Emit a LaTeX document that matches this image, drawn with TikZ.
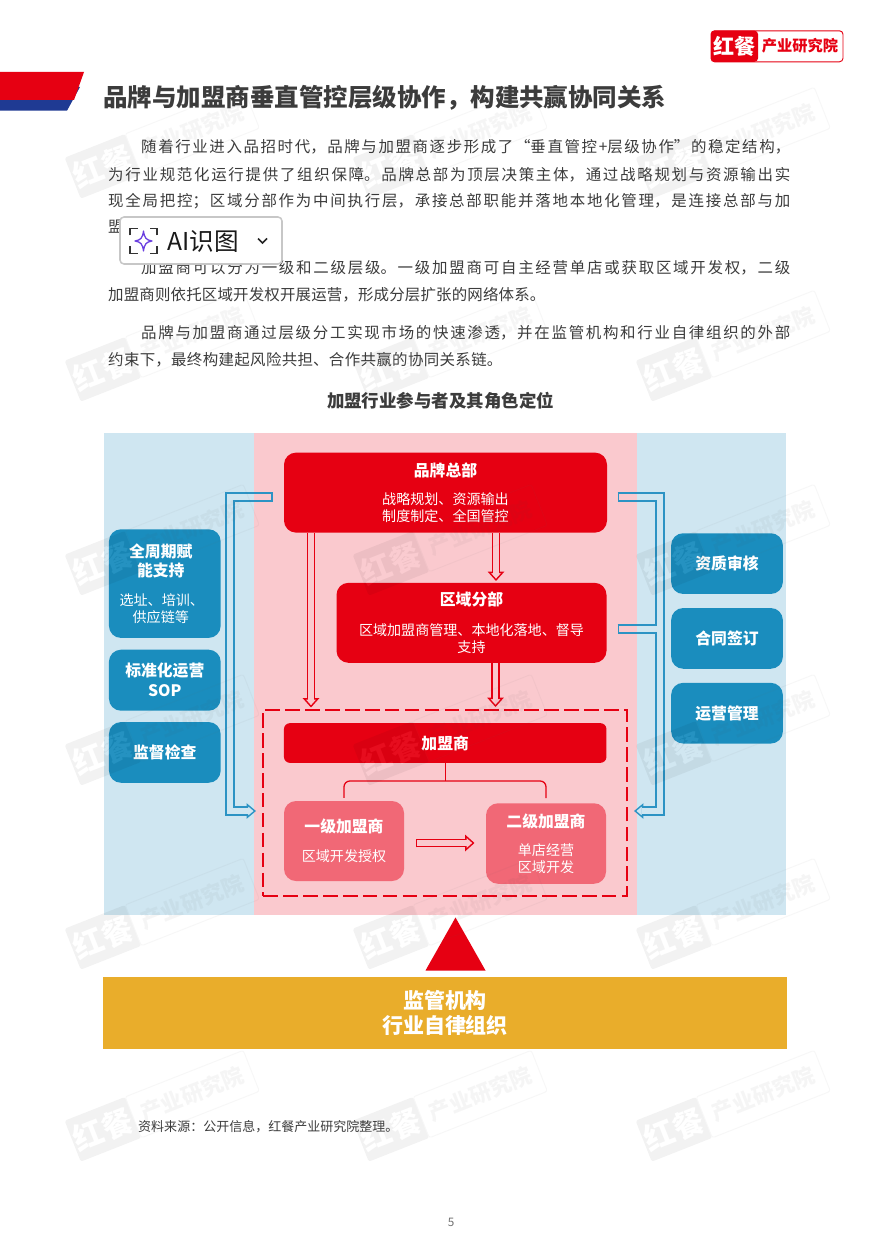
\documentclass[tikz,border=0pt]{standalone}
\usepackage{fontspec}
\setmainfont{Noto Sans CJK SC}
\usepackage{tikz}
\usetikzlibrary{arrows.meta}
\XeTeXlinebreaklocale "zh"
\XeTeXlinebreakskip=0pt plus 2pt
\newdimen\px \px=0.03cm
\definecolor{hcred}{HTML}{E60012}
\definecolor{hcnavy}{HTML}{1F3A93}
\definecolor{hcsalmon}{HTML}{F16876}
\definecolor{hcblue}{HTML}{1A8DBE}
\definecolor{pipeblue}{HTML}{2C93C4}
\definecolor{panelblue}{HTML}{CFE6F1}
\definecolor{panelpink}{HTML}{FAC9CE}
\definecolor{hcgold}{HTML}{E9AD2B}
\definecolor{inkgray}{HTML}{3C3C3C}
\definecolor{aipurple}{HTML}{6A3FE0}
\newcommand\ttlfont{\fontsize{13.5}{14.5}\selectfont\bfseries}
\newcommand\subfont{\fontsize{12}{14.5}\selectfont\mdseries}
\tikzset{
  panel/.style={inner sep=0,minimum height=482*\px},
  redbox/.style={fill=hcred,text=white,rounded corners=12*\px,align=center,inner sep=0,font=\subfont},
  pinkbox/.style={fill=hcsalmon,text=white,rounded corners=12*\px,align=center,inner sep=0,minimum width=120*\px,font=\subfont},
  bluebox/.style={fill=hcblue,text=white,rounded corners=12*\px,align=center,inner sep=0,font=\subfont},
  textline/.style={anchor=west,inner sep=0,text=inkgray,text height=12pt,text depth=2pt,font=\fontsize{13.2}{16}\selectfont},
  redpipe/.style={draw=hcred,line width=1.3pt,double=panelpink,double distance=4.4pt,
                  -{Triangle[length=8pt,width=14pt,open,fill=panelpink,line width=1.2pt]}},
  bluepipe/.style={draw=pipeblue,line width=1.3pt,double=panelblue,double distance=5.7pt,
                   -{Triangle[length=8pt,width=13pt,open,fill=panelblue,line width=1.2pt]}},
  bluetap/.style={draw=pipeblue,line width=1.3pt,double=panelblue,double distance=5.7pt},
  pinktap/.style={draw=pipeblue,line width=1.3pt,double=panelpink,double distance=5.7pt},
  treeline/.style={draw=hcred,line width=1.1pt,rounded corners=5pt},
  wmfill/.style={fill=black,text=white,inner sep=0,rounded corners=2pt,
                 minimum width=65*\px,minimum height=44*\px,transform shape,font=\fontsize{26}{26}\selectfont\bfseries},
  wmline/.style={draw=black!60,line width=.8pt,text=black!70,inner sep=0,rounded corners=2pt,
                 minimum width=127*\px,minimum height=44*\px,transform shape,font=\fontsize{18.5}{18.5}\selectfont\bfseries},
}
\begin{document}
\begin{tikzpicture}[x=0.03cm,y=-0.03cm]
\useasboundingbox (0,0) rectangle (890,1244);
\fill[white] (0,0) rectangle (890,1244);
% page header
\fill[hcnavy] (0,87) -- (80,87) -- (67,110.7) -- (0,110.7) -- cycle;
\fill[hcred] (0,72) -- (84,72) -- (74,100) -- (0,100) -- cycle;
\node[anchor=west,inner sep=0,text=inkgray,font=\fontsize{20.9}{24}\selectfont\bfseries] (pagetitle) at (103,98) {品牌与加盟商垂直管控层级协作，构建共赢协同关系};
\node[draw=hcred,fill=white,rounded corners=3pt,line width=.8pt,minimum width=132*\px,minimum height=31*\px,inner sep=0] (logoframe) at (777,46.3) {};
\fill[hcred,rounded corners=3pt] (711,30.7) -- (758,30.7) -- (758,61.8) -- (711,61.8) -- cycle;
\node[text=white,inner sep=0,font=\fontsize{18}{18}\selectfont\bfseries] (logored) at (734.5,46) {红餐};
\node[text=hcred,inner sep=0,font=\fontsize{13}{13}\selectfont\bfseries] (logotext) at (800,46) {产业研究院};
% body text, one node per printed line
\foreach \i/\lx/\ly/\lw/\lt in {
  1/141/144.5/649/随着行业进入品招时代，品牌与加盟商逐步形成了“垂直管控+层级协作”的稳定结构，,
  2/108/172/682/为行业规范化运行提供了组织保障。品牌总部为顶层决策主体，通过战略规划与资源输出实,
  3/108/199/682/现全局把控；区域分部作为中间执行层，承接总部职能并落地本地化管理，是连接总部与加,
  5/141/265/649/加盟商可以分为一级和二级层级。一级加盟商可自主经营单店或获取区域开发权，二级,
  6/108/292/437/加盟商则依托区域开发权开展运营，形成分层扩张的网络体系。,
  7/141/330/649/品牌与加盟商通过层级分工实现市场的快速渗透，并在监管机构和行业自律组织的外部,
  8/108/357/394/约束下，最终构建起风险共担、合作共赢的协同关系链。}{
  \node[textline] (line\i) at (\lx,\ly) {\parbox{\lw\px}{\parindent=0pt\parfillskip=0pt\tolerance=9999\hbadness=10000 \lt}};}
\node[textline] (line4) at (108,226.5) {盟};
\node[text=inkgray,inner sep=0,font=\fontsize{14.9}{18}\selectfont\bfseries] (figtitle) at (440.5,401) {加盟行业参与者及其角色定位};
% panels
\node[panel,fill=panelblue,minimum width=149.5*\px,anchor=north west] (leftpanel) at (104,433) {};
\node[panel,fill=panelpink,minimum width=383*\px,anchor=north west] (midpanel) at (253.5,433) {};
\node[panel,fill=panelblue,minimum width=149.5*\px,anchor=north west] (rightpanel) at (636.5,433) {};
% brand and region boxes
\node[redbox,minimum width=323*\px,minimum height=80*\px] (hq) at (445.5,492.6) {\ttlfont 品牌总部\\[10pt]\subfont 战略规划、资源输出\\\subfont 制度制定、全国管控};
\node[redbox,minimum width=270*\px,minimum height=80*\px] (region) at (471.5,622.8) {\ttlfont 区域分部\\[10.5pt]\subfont 区域加盟商管理、本地化落地、督导\\\subfont 支持};
% franchise group
\node[draw=hcred,dash pattern=on 12.5pt off 4.5pt,line width=1.5pt,minimum width=363.5*\px,minimum height=186*\px,inner sep=0] (frame) at (445,803) {};
\node[fill=hcred,text=white,rounded corners=6*\px,minimum width=322.5*\px,minimum height=39.7*\px,inner sep=0,font=\ttlfont] (franchise) at (445.2,743) {加盟商};
\node[pinkbox,minimum height=80*\px] (tierone) at (344,841) {\ttlfont 一级加盟商\\[10pt]\subfont 区域开发授权};
\node[pinkbox,minimum height=80.5*\px] (tiertwo) at (546,843.5) {\ttlfont 二级加盟商\\[9.5pt]\subfont 单店经营\\\subfont 区域开发};
% side boxes
\foreach \n/\cy/\h/\t in {sidea/583.6/108.6/{\ttlfont 全周期赋\kern8\px\\[1.7pt]\ttlfont 能支持\kern8\px\\[10pt]\subfont 选址、培训、\kern6\px\\\subfont 供应链等\kern8\px},
  sideb/680.2/61/{\ttlfont 标准化运营\\[2.5pt]\ttlfont SOP},sidec/752.4/60.7/{\ttlfont 监督检查}}{
  \node[bluebox,minimum width=111.7*\px,minimum height=\h*\px] (\n) at (164.8,\cy) {\t};}
\foreach \n/\cy/\t in {sided/563.6/资质审核,sidee/638.4/合同签订,sidef/713.2/运营管理}{
  \node[bluebox,font=\ttlfont,minimum width=111.7*\px,minimum height=60.7*\px] (\n) at (727,\cy) {\t};}
% red hollow arrows
\coordinate (longtip) at (311,707.5);
\coordinate (midtip) at (496,581);
\coordinate (lowtip) at (495.5,707);
\draw[redpipe] (hq.south -| longtip) -- (longtip);
\draw[redpipe] (hq.south -| midtip) -- (midtip);
\draw[redpipe] (region.south -| lowtip) -- (lowtip);
\foreach \t in {longtip,midtip,lowtip}{
  \draw[panelpink,line width=4.4pt] ([yshift=6.4pt]\t) -- ([yshift=10pt]\t);}
\coordinate (tierfrom) at (416,843);
\coordinate (tierto) at (474.5,843);
\draw[redpipe,{Bar[width=7.6pt,line width=1.2pt,sep=0pt]}-{Triangle[length=8pt,width=14pt,open,fill=panelpink,line width=1.2pt]}] (tierfrom) -- (tierto);
\draw[panelpink,line width=4.4pt] ([xshift=-6.4pt]tierto) -- ([xshift=-10pt]tierto);
% org tree
\coordinate (treetop) at (445,781);
\draw[treeline] (franchise.south) -- (franchise.south |- treetop);
\draw[treeline] ([yshift=3*\px]tierone.north) |- (treetop) -| ([yshift=5*\px]tiertwo.north);
% blue hollow connectors
\coordinate (hqtapl) at (272.5,497);
\coordinate (pipelt) at (230,497);
\coordinate (pipelb) at (230,811);
\coordinate (framel) at (256,811);
\coordinate (hqtapr) at (617.7,497);
\coordinate (pipert) at (660,497);
\coordinate (piperb) at (660,811);
\coordinate (framer) at (634,811);
\coordinate (regtap) at (617.7,629);
\coordinate (regjoin) at (656.6,629);
\draw[bluepipe] (hqtapl) -- (pipelt) -- (pipelb) -- (framel);
\draw[bluepipe] (hqtapr) -- (pipert) -- (piperb) -- (framer);
\draw[panelblue,line width=5.7pt] ([xshift=-6.4pt]framel) -- ([xshift=-10pt]framel);
\draw[panelblue,line width=5.7pt] ([xshift=6.4pt]framer) -- ([xshift=10pt]framer);
\draw[bluetap] (regtap) -- (regjoin);
\draw[pinktap,{Bar[width=8.3pt,line width=1.2pt,sep=0pt]}-] (hqtapl) -- (hqtapl -| leftpanel.east);
\draw[pinktap,{Bar[width=8.3pt,line width=1.2pt,sep=0pt]}-] (hqtapr) -- (hqtapr -| rightpanel.west);
\draw[pinktap,{Bar[width=8.3pt,line width=1.2pt,sep=0pt]}-] (regtap) -- (regtap -| rightpanel.west);
% supervision band
\fill[hcred] (455.5,917.5) -- (485.5,970.5) -- (425.5,970.5) -- cycle;
\node[fill=hcgold,text=white,align=center,minimum width=684*\px,minimum height=72*\px,inner sep=0,font=\fontsize{17.9}{21.3}\selectfont\bfseries] (oversight) at (445,1013) {监管机构\\行业自律组织};
% page foot
\node[anchor=west,inner sep=0,text=inkgray,font=\fontsize{11.1}{13}\selectfont] (source) at (138,1127) {资料来源：公开信息，红餐产业研究院整理。};
\node[inner sep=0,text=black!55,font=\fontsize{10}{12}\selectfont] (pageno) at (451,1222) {5};
% watermarks
\foreach \wy in {143,346,540,730,914,1106}{
  \foreach \wx in {162,450,733}{
    \begin{scope}[shift={(\wx,\wy)},rotate=21.5,transparency group,opacity=.05]
      \node[wmfill] (wma\wx-\wy) at (-63.5,0) {红餐};
      \node[wmline] (wmb\wx-\wy) at (32.5,0) {产业研究院};
    \end{scope}}}
% floating widget
\node[draw=black!22,fill=white,line width=1.3pt,rounded corners=4*\px,minimum width=162*\px,minimum height=47*\px,inner sep=0] (aiwidget) at (201,240.5) {};
\foreach \sx/\sy in {-1/-1,1/-1,-1/1,1/1}{
  \draw[black!80,line width=1.1pt] (143.5+13.5*\sx,241+5.5*\sy) -- (143.5+13.5*\sx,241+12.5*\sy) -- (143.5+6*\sx,241+12.5*\sy);}
\draw[aipurple,line width=1.1pt,line join=round] (143.5,231) .. controls (144.5,238) and (146,240) .. (152,241) .. controls (146,242) and (144.5,244) .. (143.5,251) .. controls (142.5,244) and (141,242) .. (135,241) .. controls (141,240) and (142.5,238) .. (143.5,231) -- cycle;
\node[anchor=west,inner sep=0,text=black!90,font=\fontsize{21}{24}\selectfont] (aitext) at (167,241) {AI识图};
\draw[black!85,line width=1.5pt] (258,238.5) -- (262.5,243) -- (267,238.5);
\end{tikzpicture}
\end{document}
